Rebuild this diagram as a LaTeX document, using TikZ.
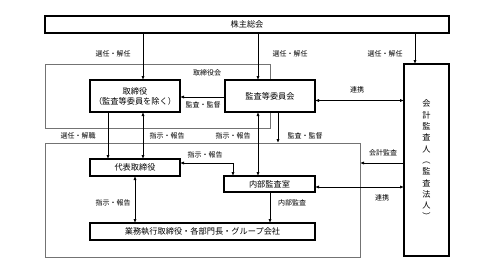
\documentclass[tikz,border=0pt]{standalone}
\usepackage{fontspec}
\setmainfont{Noto Sans CJK JP}
\usetikzlibrary{arrows.meta}
\tikzset{
  box/.style={draw=black,line width=1.1pt,rectangle,inner sep=0pt,outer sep=0pt,font=\fontsize{8.2}{10}\selectfont},
  frame/.style={draw=black!55,line width=0.7pt,rectangle,inner sep=0pt,outer sep=0pt},
  lbl/.style={font=\fontsize{7}{8}\selectfont,inner sep=0pt},
  conn/.style={line width=0.8pt,-{Latex[length=4pt,width=3.2pt]}},
  dconn/.style={line width=0.8pt,{Latex[length=4pt,width=3.2pt]}-{Latex[length=4pt,width=3.2pt]}},
}
\begin{document}
\begin{tikzpicture}[x=1pt,y=-1pt]
\useasboundingbox (0,0) rectangle (495,273);
% frames
\node[frame,minimum width=225pt,minimum height=64pt] (board) at (157.5,96) {};
\node[frame,minimum width=315pt,minimum height=114pt] (lower) at (202.5,200) {};
\node[lbl] (boardlbl) at (207,73) {取締役会};
% boxes
\node[box,minimum width=404pt,minimum height=17pt] (kabu) at (247,24.5) {株主総会};
\node[box,minimum width=90pt,minimum height=32pt,align=center,fill=white] (tori) at (135,96) {取締役\\（監査等委員を除く）};
\node[box,minimum width=90pt,minimum height=32pt,fill=white] (kansa) at (270,96) {監査等委員会};
\node[box,minimum width=45pt,minimum height=192pt,align=center,font=\fontsize{8.2}{11.3}\selectfont] (kaikei) at (426.5,160) {会\\計\\監\\査\\人\\︵\\監\\査\\法\\人\\︶};
\node[box,minimum width=90pt,minimum height=17pt] (daihyo) at (135,167.5) {代表取締役};
\node[box,minimum width=91pt,minimum height=16pt] (naibu) at (269.5,184) {内部監査室};
\node[box,minimum width=225pt,minimum height=17pt] (gyomu) at (202.5,231.5) {業務執行取締役・各部門長・グループ会社};
% connectors from shareholders
\draw[conn] (kabu.south -| 143,0) -- (tori.north -| 143,0);
\draw[conn] (kabu.south -| 258,0) -- (kansa.north -| 258,0);
\draw[conn] (kabu.south -| 415,0) -- (kaikei.north -| 415,0);
\node[lbl] (l1) at (113,54) {選任・解任};
\node[lbl] (l2) at (290,54) {選任・解任};
\node[lbl] (l3) at (385,54) {選任・解任};
% board level
\draw[conn] (kansa.west |- 0,97) -- (tori.east |- 0,97);
\node[lbl] (l4) at (203,105) {監査・監督};
\draw[dconn] (kansa.east |- 0,100.5) -- (kaikei.west |- 0,100.5);
\node[lbl] (l5) at (357,90) {連携};
% down to lower
\draw[conn] (tori.south -| 108,0) -- (daihyo.north -| 108,0);
\node[lbl] (l6) at (78,136) {選任・解職};
\draw[dconn] (tori.south -| 143,0) -- (daihyo.north -| 143,0);
\node[lbl] (l7) at (167,136) {指示・報告};
\draw[dconn] (kansa.south -| 258,0) -- (naibu.north -| 258,0);
\node[lbl] (l8) at (233,136) {指示・報告};
\draw[conn] (kansa.south -| 278,0) -- (lower.north -| 278,0);
\node[lbl] (l9) at (305,136) {監査・監督};
% lower frame
\coordinate (corner) at (233,163);
\draw[dconn] (daihyo.east |- corner) -- (corner) -- (naibu.north -| corner);
\node[lbl] (l10) at (205,155) {指示・報告};
\draw[dconn] (daihyo.south -| 135,0) -- (gyomu.north -| 135,0);
\node[lbl] (l11) at (113,203) {指示・報告};
\draw[conn] (naibu.south -| 270,0) -- (gyomu.north -| 270,0);
\node[lbl] (l12) at (292,203) {内部監査};
\draw[conn] (kaikei.west |- 0,163) -- (lower.east |- 0,163);
\node[lbl] (l13) at (383,153) {会計監査};
\draw[dconn] (naibu.east |- 0,187) -- (kaikei.west |- 0,187);
\node[lbl] (l14) at (382,198) {連携};
\end{tikzpicture}
\end{document}
